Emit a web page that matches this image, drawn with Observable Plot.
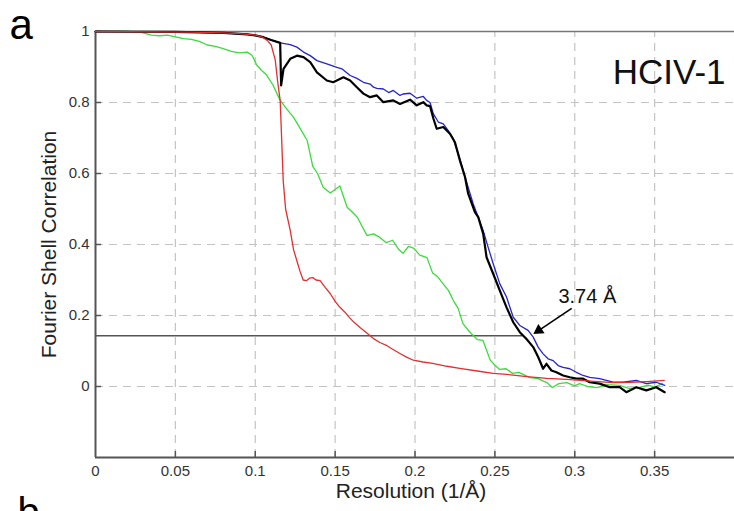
<!DOCTYPE html>
<html>
<head>
<meta charset="utf-8">
<script src="https://cdn.jsdelivr.net/npm/d3@7"></script>
<script src="https://cdn.jsdelivr.net/npm/@observablehq/plot@0.6"></script>
<style>
  html, body { margin: 0; padding: 0; background: #fff; }
</style>
</head>
<body>
<div id="chart"></div>
<script>
// ---- Data ----
const xTicks = [0, 0.05, 0.1, 0.15, 0.2, 0.25, 0.3, 0.35];
const yTicks = [0, 0.2, 0.4, 0.6, 0.8, 1];
const xGrid = [0.05, 0.1, 0.15, 0.2, 0.25, 0.3, 0.35];
const yGrid = [0, 0.2, 0.4, 0.6, 0.8];
const threshold = 0.143;
const resolutionA = 3.74;
const panelLabel = "a";
const nextPanelLabel = "b";
const sampleName = "HCIV-1";

const blueCurve = [[0,1],[0.05,0.999],[0.08,0.996],[0.095,0.992],[0.1,0.989],[0.105,0.984],[0.11,0.976],[0.1156,0.968],[0.1219,0.963],[0.1261,0.956],[0.1302,0.942],[0.1344,0.932],[0.1386,0.918],[0.1448,0.909],[0.1511,0.899],[0.1542,0.895],[0.1594,0.876],[0.1636,0.868],[0.1677,0.857],[0.1719,0.852],[0.174,0.843],[0.1761,0.84],[0.1802,0.838],[0.1835,0.828],[0.1864,0.834],[0.1906,0.82],[0.1925,0.824],[0.1969,0.826],[0.2011,0.812],[0.2052,0.817],[0.2073,0.806],[0.2094,0.8],[0.2115,0.768],[0.2146,0.745],[0.2177,0.74],[0.2208,0.721],[0.2239,0.698],[0.2271,0.655],[0.2302,0.608],[0.2333,0.561],[0.2364,0.515],[0.2396,0.477],[0.2427,0.439],[0.2458,0.392],[0.249,0.345],[0.2531,0.289],[0.2573,0.252],[0.2615,0.195],[0.2656,0.172],[0.2708,0.158],[0.274,0.139],[0.2771,0.111],[0.2802,0.092],[0.2833,0.078],[0.2865,0.073],[0.2896,0.059],[0.2927,0.054],[0.2969,0.05],[0.301,0.04],[0.3052,0.031],[0.3094,0.026],[0.3156,0.022],[0.324,0.012],[0.3302,0.012],[0.3385,0.017],[0.3448,0.008],[0.351,0.012],[0.3563,0.003]];

const blackCurve = [[0,1],[0.05,0.999],[0.08,0.996],[0.095,0.992],[0.1,0.989],[0.105,0.984],[0.11,0.976],[0.1156,0.968],[0.1162,0.848],[0.1177,0.895],[0.1219,0.923],[0.1261,0.932],[0.1302,0.928],[0.1344,0.914],[0.1386,0.885],[0.1448,0.862],[0.1488,0.857],[0.1552,0.871],[0.1594,0.862],[0.1636,0.843],[0.1677,0.825],[0.1719,0.815],[0.1761,0.82],[0.1802,0.801],[0.1864,0.806],[0.1906,0.796],[0.1969,0.808],[0.2011,0.792],[0.2052,0.801],[0.2073,0.792],[0.2094,0.79],[0.2115,0.755],[0.2136,0.726],[0.2177,0.731],[0.2219,0.712],[0.225,0.688],[0.2281,0.637],[0.2313,0.59],[0.2333,0.543],[0.2375,0.491],[0.2396,0.477],[0.2427,0.43],[0.2448,0.364],[0.249,0.317],[0.2531,0.27],[0.2573,0.223],[0.2615,0.181],[0.2656,0.153],[0.2698,0.134],[0.274,0.111],[0.2771,0.083],[0.2802,0.05],[0.2823,0.064],[0.2854,0.045],[0.2885,0.04],[0.2927,0.031],[0.2969,0.026],[0.301,0.022],[0.3052,0.022],[0.3094,0.012],[0.3156,0.008],[0.3219,-0.002],[0.3281,-0.002],[0.3323,-0.016],[0.3385,-0.002],[0.3448,-0.011],[0.351,-0.002],[0.3563,-0.016]];

const greenCurve = [[0,1],[0.02,1],[0.028,0.998],[0.035,0.99],[0.04,0.988],[0.045,0.99],[0.05,0.985],[0.055,0.98],[0.06,0.978],[0.065,0.972],[0.07,0.962],[0.075,0.958],[0.08,0.952],[0.085,0.944],[0.09,0.94],[0.095,0.942],[0.098,0.933],[0.101,0.905],[0.104,0.89],[0.107,0.878],[0.111,0.85],[0.1156,0.806],[0.12,0.78],[0.124,0.758],[0.128,0.728],[0.1325,0.693],[0.136,0.62],[0.139,0.6],[0.1425,0.561],[0.147,0.545],[0.153,0.565],[0.1575,0.505],[0.161,0.49],[0.164,0.476],[0.167,0.45],[0.17,0.425],[0.174,0.43],[0.178,0.42],[0.182,0.405],[0.186,0.412],[0.19,0.385],[0.1925,0.375],[0.196,0.395],[0.199,0.39],[0.203,0.37],[0.2075,0.363],[0.211,0.32],[0.214,0.31],[0.2175,0.29],[0.221,0.27],[0.224,0.242],[0.227,0.22],[0.23,0.177],[0.234,0.155],[0.239,0.132],[0.2425,0.13],[0.245,0.1],[0.247,0.075],[0.25,0.06],[0.253,0.048],[0.257,0.05],[0.261,0.037],[0.265,0.04],[0.272,0.025],[0.277,0.022],[0.2825,0.011],[0.286,-0.003],[0.29,0.008],[0.295,0.011],[0.3,0.002],[0.303,0.008],[0.308,0.0],[0.314,-0.003],[0.32,0.005],[0.328,0.003],[0.334,-0.005],[0.34,-0.003],[0.346,0.004],[0.35,-0.002],[0.355,0.008]];

const redCurve = [[0,1],[0.06,0.998],[0.08,0.996],[0.09,0.994],[0.1,0.99],[0.104,0.985],[0.1075,0.975],[0.11,0.962],[0.1125,0.92],[0.114,0.86],[0.1156,0.806],[0.1165,0.7],[0.1175,0.58],[0.119,0.5],[0.1219,0.44],[0.124,0.385],[0.126,0.355],[0.128,0.325],[0.13,0.3],[0.132,0.298],[0.134,0.305],[0.136,0.307],[0.138,0.3],[0.1406,0.298],[0.144,0.278],[0.1469,0.262],[0.15,0.24],[0.153,0.223],[0.156,0.21],[0.159,0.194],[0.162,0.18],[0.1656,0.166],[0.17,0.15],[0.174,0.135],[0.178,0.124],[0.1825,0.115],[0.186,0.105],[0.1906,0.093],[0.195,0.082],[0.199,0.074],[0.205,0.069],[0.211,0.065],[0.22,0.057],[0.228,0.051],[0.24,0.043],[0.249,0.037],[0.26,0.033],[0.27,0.028],[0.2825,0.023],[0.295,0.02],[0.31,0.015],[0.324,0.011],[0.335,0.012],[0.345,0.014],[0.352,0.016],[0.356,0.017]];

// ---- Chart ----
const cut = 1 / resolutionA;
const font = "'Liberation Sans', Arial, Helvetica, sans-serif";
const lineOpts = (color, w) => ({x: d => d[0], y: d => d[1], stroke: color, strokeWidth: w, strokeLinejoin: "round"});

const chart = Plot.plot({
  width: 734,
  height: 511,
  marginLeft: 95,
  marginRight: 0,
  marginTop: 31,
  marginBottom: 54,
  x: {domain: [0, 0.4], axis: null},
  y: {domain: [-0.2, 1], axis: null},
  style: {fontFamily: font, fontSize: "15px", color: "#333", background: "#fff"},
  marks: [
    // grid
    Plot.ruleX(xGrid, {y1: -0.2, y2: 1, stroke: "#c4c4c4", strokeWidth: 1.2, strokeDasharray: "8,6"}),
    Plot.ruleY(yGrid, {x1: 0, x2: 0.4, stroke: "#c4c4c4", strokeWidth: 1.2, strokeDasharray: "8,6"}),
    // frame lines
    Plot.ruleY([1], {x1: 0, x2: 0.4, stroke: "#777", strokeWidth: 1.5}),
    Plot.ruleX([0], {y1: -0.2, y2: 1, stroke: "#555", strokeWidth: 2}),
    Plot.ruleY([-0.2], {x1: 0, x2: 0.4, stroke: "#555", strokeWidth: 2}),
    // inward ticks
    Plot.ruleX(xTicks.filter(d => d > 0), {y1: -0.2, y2: -0.183, stroke: "#555", strokeWidth: 1.5}),
    Plot.ruleY(yTicks, {x1: 0, x2: 0.0038, stroke: "#555", strokeWidth: 1.5}),
    // tick labels
    Plot.axisX({ticks: xTicks, tickSize: 0, tickPadding: 8, tickFormat: d => String(d), label: null, fontSize: 15, fill: "#333"}),
    Plot.axisY({ticks: yTicks, tickSize: 0, tickPadding: 6, tickFormat: d => String(d), label: null, fontSize: 15, fill: "#333"}),
    // threshold
    Plot.ruleY([threshold], {x1: 0, x2: cut, stroke: "#555", strokeWidth: 1.6}),
    // curves
    Plot.line(greenCurve, lineOpts("#3bdc3b", 1.3)),
    Plot.line(blueCurve, lineOpts("#2424cf", 1.3)),
    Plot.line(blackCurve, lineOpts("#000", 2.2)),
    Plot.line(redCurve, lineOpts("#e03030", 1.3)),
    // annotation arrow
    Plot.link([0], {x1: cut + 0.0307, y1: threshold + 0.077, x2: cut + 0.0095, y2: threshold + 0.013, stroke: "#000", strokeWidth: 1.6}),
    Plot.dot([0], {x: cut + 0.0101, y: threshold + 0.015, symbol: "triangle", r: 4.2, fill: "#000", stroke: "none", rotate: 236}),
    Plot.text([`${resolutionA.toFixed(2)} Å`], {x: cut + 0.0405, y: threshold + 0.11, fontSize: 20, fill: "#111"}),
    // texts
    Plot.text([sampleName], {frameAnchor: "top-right", dx: -9, dy: 28, textAnchor: "end", fontSize: 35, fill: "#111"}),
    Plot.text(["Fourier Shell Correlation"], {frameAnchor: "left", dx: -46, rotate: -90, textAnchor: "middle", lineAnchor: "middle", fontSize: 21, fill: "#222"}),
    Plot.text(["Resolution (1/Å)"], {frameAnchor: "bottom", dx: -4, dy: 40, fontSize: 21, fill: "#222"}),
    Plot.text([panelLabel], {frameAnchor: "top-left", dx: -86, dy: -22, textAnchor: "start", fontSize: 42, fill: "#000"}),
    Plot.text([nextPanelLabel], {frameAnchor: "bottom-left", dx: -78, dy: 40, textAnchor: "start", lineAnchor: "top", fontSize: 40, fill: "#000"})
  ]
});
document.getElementById("chart").appendChild(chart);
</script>
</body>
</html>
